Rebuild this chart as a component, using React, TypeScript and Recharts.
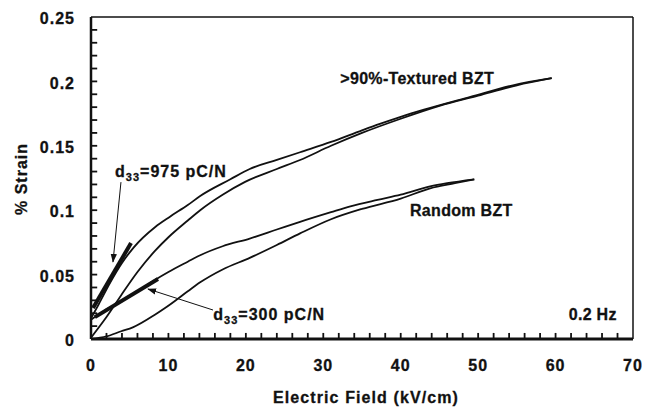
import React from 'react'
import {
    LineChart,
    Line,
    XAxis,
    YAxis,
    ReferenceLine,
    ReferenceDot,
} from 'recharts'

// strain loops (field in kV/cm, strain in %)
const texturedUpper = [
    { e: 0, s: 0.016 }, { e: 1, s: 0.027 }, { e: 2.5, s: 0.044 }, { e: 4, s: 0.059 },
    { e: 5.5, s: 0.071 }, { e: 8.3, s: 0.087 }, { e: 10.2, s: 0.095 }, { e: 12.5, s: 0.104 },
    { e: 14.1, s: 0.111 }, { e: 18, s: 0.124 }, { e: 20.5, s: 0.132 }, { e: 24, s: 0.139 },
    { e: 27, s: 0.145 }, { e: 31, s: 0.153 }, { e: 35, s: 0.162 }, { e: 37.3, s: 0.167 },
    { e: 40, s: 0.1725 }, { e: 43, s: 0.178 }, { e: 49, s: 0.188 }, { e: 54.5, s: 0.197 },
    { e: 59.5, s: 0.2025 },
]
const texturedLower = [
    { e: 0, s: 0.001 }, { e: 2, s: 0.017 }, { e: 3.9, s: 0.034 }, { e: 6, s: 0.052 },
    { e: 8.2, s: 0.068 }, { e: 10, s: 0.079 }, { e: 12.5, s: 0.092 }, { e: 14.1, s: 0.1 },
    { e: 17, s: 0.112 }, { e: 19.9, s: 0.122 }, { e: 24, s: 0.132 }, { e: 27, s: 0.139 },
    { e: 31, s: 0.15 }, { e: 35, s: 0.16 }, { e: 40, s: 0.171 }, { e: 45, s: 0.181 },
    { e: 50, s: 0.189 }, { e: 55, s: 0.197 }, { e: 59.5, s: 0.2025 },
]
const randomUpper = [
    { e: 0, s: 0.015 }, { e: 1, s: 0.019 }, { e: 2, s: 0.023 }, { e: 3.9, s: 0.029 },
    { e: 6, s: 0.037 }, { e: 8.3, s: 0.046 }, { e: 10, s: 0.052 }, { e: 12.5, s: 0.06 },
    { e: 14.1, s: 0.065 }, { e: 17, s: 0.072 }, { e: 20.5, s: 0.078 }, { e: 24, s: 0.085 },
    { e: 27, s: 0.091 }, { e: 31, s: 0.0985 }, { e: 33.5, s: 0.103 }, { e: 37, s: 0.108 },
    { e: 40, s: 0.112 }, { e: 43.8, s: 0.1185 }, { e: 46, s: 0.121 }, { e: 49.5, s: 0.124 },
]
const randomLower = [
    { e: 0, s: 0 }, { e: 2, s: 0.002 }, { e: 3.9, s: 0.006 }, { e: 5.4, s: 0.009 },
    { e: 8.3, s: 0.019 }, { e: 9.8, s: 0.025 }, { e: 12.5, s: 0.037 }, { e: 14.1, s: 0.044 },
    { e: 17, s: 0.054 }, { e: 20.5, s: 0.063 }, { e: 24, s: 0.073 }, { e: 27, s: 0.082 },
    { e: 31, s: 0.093 }, { e: 35, s: 0.101 }, { e: 40, s: 0.109 }, { e: 43.8, s: 0.117 },
    { e: 47, s: 0.121 }, { e: 49.5, s: 0.124 },
]

// tangent lines (d33 slopes) and annotation arrows
const tangent975 = [{ e: 0.26, s: 0.024 }, { e: 5.17, s: 0.0745 }]
const tangent300 = [{ e: 0.5, s: 0.017 }, { e: 8.65, s: 0.0466 }]
const arrow975 = [{ e: 3.87, s: 0.1218 }, { e: 2.84, s: 0.0598 }]
const arrow300 = [{ e: 15.76, s: 0.0225 }, { e: 7.36, s: 0.0388 }]

const xTicks = [0, 2, 4, 6, 8, 10, 12, 14, 16, 18, 20, 22, 24, 26, 28, 30, 32, 34,
    36, 38, 40, 42, 44, 46, 48, 50, 52, 54, 56, 58, 60, 62, 64, 66, 68, 70]
const xMajor = [0, 10, 20, 30, 40, 50, 60, 70]
const yTicks = [0, 0.01, 0.02, 0.03, 0.04, 0.05, 0.06, 0.07, 0.08, 0.09, 0.1, 0.11, 0.12,
    0.13, 0.14, 0.15, 0.16, 0.17, 0.18, 0.19, 0.2, 0.21, 0.22, 0.23, 0.24, 0.25]
const yMajor = [0, 0.05, 0.1, 0.15, 0.2, 0.25]
const yMajorLabels = ['0', '0.05', '0.1', '0.15', '0.2', '0.25']

// inward tick mark lengths, in axis units (about 6px each)
const X_TICK_LEN = 0.0047
const Y_TICK_LEN = 0.8

// tick marks as short two-point series, built from the tick lists
const xTickMarks = xTicks.slice(1, -1).map((v) => [{ e: v, s: 0 }, { e: v, s: X_TICK_LEN }])
const yTickMarks = yTicks.slice(1, -1).map((v) => [{ e: 0, s: v }, { e: Y_TICK_LEN, s: v }])

const INK = '#111111'
const FONT = '"Liberation Sans", Arial, Helvetica, sans-serif'

const boldText = {
    fontFamily: FONT, fontWeight: 700, fill: INK, stroke: INK, strokeWidth: 0.3,
}

// labels only on the majors
// eslint-disable-next-line @typescript-eslint/no-explicit-any
const XTick = ({ x, y, payload }: any) => {
    if (!xMajor.includes(payload.value)) return <g />
    return (
        <text x={x} y={y} dy="0.71em" textAnchor="middle" fontSize={16}
            letterSpacing={1} {...boldText}>
            {payload.value}
        </text>
    )
}

// eslint-disable-next-line @typescript-eslint/no-explicit-any
const YTick = ({ x, y, payload }: any) => {
    const i = yMajor.indexOf(payload.value)
    if (i < 0) return <g />
    return (
        <text x={x} y={y} dy="0.45em" textAnchor="end" fontSize={16}
            letterSpacing={1} {...boldText}>
            {yMajorLabels[i]}
        </text>
    )
}

// eslint-disable-next-line @typescript-eslint/no-explicit-any
const plainLabel = (text: string, anchor: 'start' | 'end') => (props: any) => {
    const { x, y } = props.viewBox
    return (
        <text x={x} y={y} textAnchor={anchor} fontSize={16} letterSpacing={0.3} {...boldText}>
            {text}
        </text>
    )
}

// eslint-disable-next-line @typescript-eslint/no-explicit-any
const d33Label = (value: string) => (props: any) => {
    const { x, y } = props.viewBox
    return (
        <text x={x} y={y} fontSize={16} letterSpacing={1} {...boldText}>
            <tspan>d</tspan>
            <tspan fontSize={11} dy={4}>33</tspan>
            <tspan dy={-4}>{`=${value} pC/N`}</tspan>
        </text>
    )
}

export default function App() {
    return (
        <div style={{ position: 'absolute', left: 0, top: 0, background: '#fff' }}>
            <LineChart width={646} height={411} margin={{ top: 17, right: 13, left: 0, bottom: 0 }}>
                <defs>
                    <marker id="arrowHead" viewBox="0 0 10 10" refX="9" refY="5"
                        markerWidth="9" markerHeight="9" markerUnits="userSpaceOnUse" orient="auto">
                        <path d="M0,1.5 L10,5 L0,8.5 Z" fill={INK} />
                    </marker>
                </defs>
                <XAxis
                    type="number"
                    dataKey="e"
                    domain={[0, 70]}
                    ticks={xTicks}
                    interval={0}
                    height={72}
                    tickSize={0}
                    tickMargin={21}
                    tick={<XTick />}
                    tickLine={false}
                    axisLine={{ stroke: INK, strokeWidth: 3 }}
                    allowDataOverflow
                    label={() => (
                        <text x={366} y={403} textAnchor="middle" fontSize={16}
                            letterSpacing={1.1} {...boldText}>
                            Electric Field (kV/cm)
                        </text>
                    )}
                />
                <YAxis
                    type="number"
                    dataKey="s"
                    domain={[0, 0.25]}
                    ticks={yTicks}
                    interval={0}
                    width={91}
                    tickSize={0}
                    tickMargin={16}
                    tick={<YTick />}
                    tickLine={false}
                    axisLine={{ stroke: INK, strokeWidth: 2.5 }}
                    allowDataOverflow
                    label={() => (
                        <text x={21} y={179} transform="rotate(-90 21 179)" dy="0.35em"
                            textAnchor="middle" fontSize={16} letterSpacing={1} {...boldText}>
                            % Strain
                        </text>
                    )}
                />
                <ReferenceLine y={0.25} stroke={INK} strokeWidth={1.5} />
                <ReferenceLine x={70} stroke={INK} strokeWidth={1.5} />

                {xTickMarks.map((d, i) => (
                    <Line key={`xt${i}`} data={d} dataKey="s" type="linear" stroke={INK}
                        strokeWidth={1.8} dot={false} activeDot={false} isAnimationActive={false} />
                ))}
                {yTickMarks.map((d, i) => (
                    <Line key={`yt${i}`} data={d} dataKey="s" type="linear" stroke={INK}
                        strokeWidth={1.8} dot={false} activeDot={false} isAnimationActive={false} />
                ))}

                <Line data={texturedUpper} dataKey="s" type="monotone" stroke={INK} strokeWidth={1.8}
                    dot={false} isAnimationActive={false} />
                <Line data={texturedLower} dataKey="s" type="monotone" stroke={INK} strokeWidth={1.8}
                    dot={false} isAnimationActive={false} />
                <Line data={randomUpper} dataKey="s" type="monotone" stroke={INK} strokeWidth={1.8}
                    dot={false} isAnimationActive={false} />
                <Line data={randomLower} dataKey="s" type="monotone" stroke={INK} strokeWidth={1.8}
                    dot={false} isAnimationActive={false} />

                <Line data={tangent975} dataKey="s" type="linear" stroke={INK} strokeWidth={4}
                    dot={false} isAnimationActive={false} />
                <Line data={tangent300} dataKey="s" type="linear" stroke={INK} strokeWidth={4}
                    dot={false} isAnimationActive={false} />
                <Line data={arrow975} dataKey="s" type="linear" stroke={INK} strokeWidth={1}
                    dot={false} markerEnd="url(#arrowHead)" isAnimationActive={false} />
                <Line data={arrow300} dataKey="s" type="linear" stroke={INK} strokeWidth={1}
                    dot={false} markerEnd="url(#arrowHead)" isAnimationActive={false} />

                <ReferenceDot x={3.1} y={0.1257} r={0} stroke="none" label={d33Label('975')} />
                <ReferenceDot x={15.8} y={0.0147} r={0} stroke="none" label={d33Label('300')} />
                <ReferenceDot x={32.2} y={0.198} r={0} stroke="none"
                    label={plainLabel('>90%-Textured BZT', 'start')} />
                <ReferenceDot x={41.2} y={0.0955} r={0} stroke="none"
                    label={plainLabel('Random BZT', 'start')} />
                <ReferenceDot x={67.9} y={0.0147} r={0} stroke="none"
                    label={plainLabel('0.2 Hz', 'end')} />
            </LineChart>
        </div>
    )
}
